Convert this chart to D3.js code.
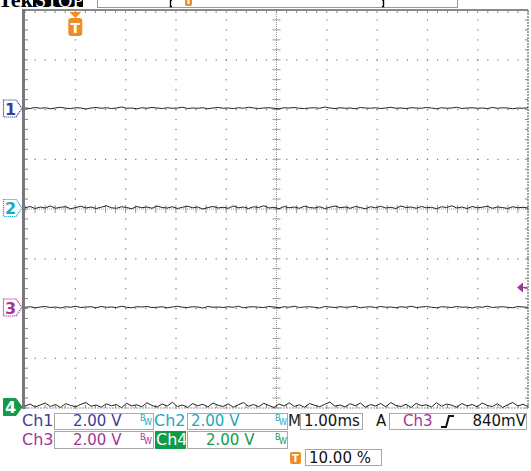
<!DOCTYPE html>
<html><head><meta charset="utf-8">
<script src="https://cdn.jsdelivr.net/npm/d3@7/dist/d3.min.js"></script>
<style>body{margin:0;background:#fff}svg{display:block}</style>
</head><body>
<script>
// ---- data ----
const channels = ["Ch1","Ch2","Ch3","Ch4"];
const voltsPerDiv = [2.00, 2.00, 2.00, 2.00];
const chPosDiv = [2, 0, -2, -4];
const timePerDivMs = 1.00;
const triggerPct = 10.00;
const triggerLevelV = 0.84;
const ch1 = [0.06,0.04,0.08,0.05,0.07,0.03,0.06,0.09,0.05,0.04,0.07,0.06,0.02,0.06,0.08,0.05,0.07,0.04,0.06,0.10,0.05,0.06,0.03,0.07,0.05,0.08,0.06,0.04,0.07,0.05,0.06,0.09,0.04,0.06,0.05,0.07,0.03,0.06,0.08,0.05,0.06,0.04,0.07,0.05,0.09,0.06,0.04,0.06,0.07,0.05,0.03,0.07,0.06,0.08,0.05,0.04,0.06,0.07,0.05,0.10,0.06,0.04,0.07,0.05,0.06,0.03,0.08,0.06,0.05,0.07,0.04,0.06,0.09,0.05,0.06,0.04,0.07,0.06,0.05,0.08,0.06,0.03,0.07,0.05,0.06,0.09,0.04,0.06,0.07,0.05,0.06,0.04,0.08,0.05,0.07,0.06,0.03,0.06,0.05,0.07];
const ch2 = [0.05,0.10,0.02,0.08,0.04,0.12,0.03,0.07,0.09,0.01,0.06,0.11,0.04,0.08,0.02,0.07,0.13,0.05,0.03,0.09,0.06,0.01,0.10,0.05,0.08,0.03,0.12,0.06,0.04,0.09,0.02,0.07,0.11,0.05,0.08,0.00,0.06,0.10,0.04,0.07,0.03,0.12,0.05,0.08,0.02,0.09,0.06,0.13,0.04,0.07,0.01,0.10,0.05,0.08,0.03,0.11,0.06,0.04,0.09,0.02,0.07,0.12,0.05,0.08,0.03,0.10,0.06,0.01,0.09,0.05,0.11,0.04,0.07,0.02,0.12,0.06,0.08,0.03,0.10,0.05,0.07,0.01,0.09,0.06,0.13,0.04,0.08,0.02,0.10,0.05,0.07,0.11,0.03,0.08,0.06,0.02,0.09,0.05,0.07,0.04];
const ch3 = [0.05,0.07,0.03,0.06,0.08,0.04,0.06,0.02,0.07,0.05,0.09,0.04,0.06,0.07,0.03,0.08,0.05,0.06,0.04,0.09,0.05,0.03,0.07,0.06,0.08,0.04,0.05,0.07,0.03,0.06,0.09,0.05,0.04,0.07,0.06,0.02,0.08,0.05,0.06,0.04,0.07,0.05,0.09,0.03,0.06,0.07,0.05,0.04,0.08,0.06,0.03,0.07,0.05,0.09,0.04,0.06,0.07,0.05,0.02,0.08,0.06,0.04,0.07,0.05,0.06,0.09,0.03,0.06,0.07,0.04,0.08,0.05,0.06,0.03,0.07,0.05,0.09,0.04,0.06,0.08,0.05,0.03,0.07,0.06,0.04,0.08,0.05,0.06,0.02,0.07,0.05,0.09,0.04,0.06,0.07,0.05,0.03,0.08,0.06,0.05];
const ch4 = [0.08,0.16,0.04,0.12,0.20,0.06,0.14,0.02,0.18,0.10,0.05,0.15,0.22,0.07,0.12,0.03,0.17,0.09,0.14,0.01,0.19,0.08,0.13,0.05,0.21,0.10,0.04,0.16,0.08,0.23,0.06,0.12,0.02,0.18,0.09,0.15,0.04,0.20,0.11,0.06,0.17,0.03,0.13,0.22,0.07,0.14,0.05,0.19,0.10,0.02,0.16,0.08,0.21,0.06,0.13,0.03,0.18,0.11,0.05,0.15,0.24,0.07,0.12,0.04,0.17,0.09,0.20,0.03,0.14,0.08,0.18,0.05,0.22,0.10,0.06,0.15,0.02,0.19,0.09,0.13,0.04,0.21,0.07,0.16,0.11,0.03,0.18,0.08,0.14,0.05,0.20,0.10,0.06,0.17,0.02,0.13,0.22,0.08,0.15,0.06];
const traces = [ch1, ch2, ch3, ch4];
const chColors = ["#3a3d9c", "#1aa9c0", "#a33595", "#119a48"];

// ---- layout ----
const W = 531, H = 471;
const svg = d3.select("body").append("svg").attr("width", W).attr("height", H);
const L = 25, R = 528, T = 10, B = 408;
const preMs = timePerDivMs * 10 * triggerPct / 100;
const x = d3.scaleLinear().domain([-preMs, 10 * timePerDivMs - preMs]).range([L, R]);
const y = d3.scaleLinear().domain([-4, 4]).range([B, T]);
const FONT = "'DejaVu Sans', Verdana, sans-serif";

// top header
svg.append("text").attr("x", -2).attr("y", 7).attr("font-family", "'Liberation Serif', serif")
  .attr("font-size", 22).attr("font-weight", "bold").attr("fill", "#000").text("Tek");
svg.append("rect").attr("x", 33).attr("y", -2).attr("width", 50).attr("height", 9).attr("fill", "#000");
svg.append("text").attr("x", 35).attr("y", 7).attr("font-family", "'Liberation Serif', serif")
  .attr("font-size", 20).attr("fill", "#fff").text("STOP");
svg.append("rect").attr("x", 97.5).attr("y", -2).attr("width", 360).attr("height", 9.5)
  .attr("fill", "#fff").attr("stroke", "#999");
svg.append("path").attr("d", "M172,0 L170.5,0 L170.5,6.5 L172,6.5").attr("stroke", "#000").attr("fill", "none").attr("stroke-width", 1.4);
svg.append("path").attr("d", "M382,0 L383.5,0 L383.5,6.5 L382,6.5").attr("stroke", "#000").attr("fill", "none").attr("stroke-width", 1.4);
svg.append("rect").attr("x", 185).attr("y", -4).attr("width", 7).attr("height", 10).attr("rx", 2).attr("fill", "#f08c28");
svg.append("rect").attr("x", 187.5).attr("y", -2).attr("width", 2).attr("height", 6).attr("fill", "#fff");

// plot frame
const g = svg.append("g");
const divX = d3.range(0, 11).map(i => x.domain()[0] + i * timePerDivMs);
const divY = d3.range(-4, 5);
const minorX = d3.range(0, 51).map(i => x.domain()[0] + i * timePerDivMs / 5);
const minorY = d3.range(0, 41).map(i => -4 + i * 0.2);

divX.slice(1, 10).forEach((t, i) => {
  if (i === 4) return;
  minorY.forEach(v => g.append("rect").attr("x", x(t) - 0.5).attr("y", y(v) - 0.5).attr("width", 1.2).attr("height", 1.2).attr("fill", "#777"));
});
divY.slice(1, 8).forEach(v => {
  if (v === 0) return;
  minorX.forEach(t => g.append("rect").attr("x", x(t) - 0.5).attr("y", y(v) - 0.5).attr("width", 1.2).attr("height", 1.2).attr("fill", "#777"));
});
const cx = x(divX[5]), cy = y(0);
g.append("line").attr("x1", cx).attr("x2", cx).attr("y1", T).attr("y2", B).attr("stroke", "#999").attr("stroke-dasharray", "1,1");
g.append("line").attr("x1", L).attr("x2", R).attr("y1", cy).attr("y2", cy).attr("stroke", "#999").attr("stroke-dasharray", "1,1");
minorY.forEach(v => g.append("line").attr("x1", cx - 4).attr("x2", cx + 4).attr("y1", y(v)).attr("y2", y(v)).attr("stroke", "#999"));
minorX.forEach(t => g.append("line").attr("x1", x(t)).attr("x2", x(t)).attr("y1", cy - 4).attr("y2", cy + 4).attr("stroke", "#999"));
minorX.forEach(t => {
  g.append("line").attr("x1", x(t)).attr("x2", x(t)).attr("y1", T).attr("y2", T + 3).attr("stroke", "#888");
  g.append("line").attr("x1", x(t)).attr("x2", x(t)).attr("y1", B - 3).attr("y2", B).attr("stroke", "#888");
});
minorY.forEach(v => {
  g.append("line").attr("x1", L).attr("x2", L + 3).attr("y1", y(v)).attr("y2", y(v)).attr("stroke", "#888");
  g.append("line").attr("x1", R - 3).attr("x2", R).attr("y1", y(v)).attr("y2", y(v)).attr("stroke", "#888");
});
g.append("line").attr("x1", L).attr("x2", R).attr("y1", T).attr("y2", T).attr("stroke", "#888").attr("stroke-width", 2);
g.append("line").attr("x1", R).attr("x2", R).attr("y1", T).attr("y2", B).attr("stroke", "#888").attr("stroke-dasharray", "2,1").attr("stroke-width", 1.5);
g.append("line").attr("x1", L).attr("x2", R).attr("y1", B).attr("y2", B).attr("stroke", "#999").attr("stroke-dasharray", "2,1");
g.append("line").attr("x1", L - 1.5).attr("x2", L - 1.5).attr("y1", T - 1).attr("y2", B + 1).attr("stroke", "#7a7a7a").attr("stroke-width", 3);

// traces
svg.append("clipPath").attr("id", "clip").append("rect").attr("x", L).attr("y", T).attr("width", R - L).attr("height", B - T);
traces.forEach((arr, c) => {
  const n = arr.length;
  const line = d3.line()
    .x((d, i) => x(x.domain()[0] + i * (x.domain()[1] - x.domain()[0]) / (n - 1)))
    .y(d => y(chPosDiv[c] + d / voltsPerDiv[c]));
  svg.append("path").attr("d", line(arr)).attr("fill", "none").attr("stroke", "#222")
    .attr("stroke-width", 1).attr("clip-path", "url(#clip)");
});

// channel markers on left
channels.forEach((ch, c) => {
  const yy = y(chPosDiv[c]) - 1;
  const sel = c === 3;
  const p = `M3.5,${yy - 8.5} L16,${yy - 8.5} L22,${yy} L16,${yy + 8.5} L3.5,${yy + 8.5} Z`;
  svg.append("path").attr("d", p).attr("fill", sel ? chColors[c] : "#fff")
    .attr("stroke", chColors[c]).attr("stroke-width", sel ? 1 : 1.2).attr("stroke-dasharray", sel ? null : "1.2,0.8");
  svg.append("text").attr("x", 10.5).attr("y", yy + 6).attr("text-anchor", "middle")
    .attr("font-family", FONT).attr("font-size", 16).attr("font-weight", "bold")
    .attr("fill", sel ? "#fff" : chColors[c]).text(String(c + 1));
});

// trigger position marker (top)
const tx = x(0);
svg.append("path").attr("d", `M${tx - 6},12 L${tx + 6},12 L${tx},18 Z`).attr("fill", "#f08c28");
svg.append("rect").attr("x", tx - 7).attr("y", 18).attr("width", 14).attr("height", 18).attr("rx", 3).attr("fill", "#f08c28");
svg.append("text").attr("x", tx).attr("y", 33).attr("text-anchor", "middle").attr("font-family", FONT)
  .attr("font-size", 14).attr("font-weight", "bold").attr("fill", "#fff").text("T");

// trigger level marker (right)
const ty = y(chPosDiv[2] + triggerLevelV / voltsPerDiv[2]);
svg.append("path").attr("d", `M${R - 11},${ty} L${R - 5},${ty - 5} L${R - 5},${ty + 5} Z`).attr("fill", "#a33595");
svg.append("line").attr("x1", R - 6).attr("x2", R - 1).attr("y1", ty).attr("y2", ty).attr("stroke", "#a33595").attr("stroke-width", 1.5);

// bottom readouts
function box(x0, y0, w, h) {
  svg.append("rect").attr("x", x0 + 0.5).attr("y", y0 + 0.5).attr("width", w).attr("height", h)
    .attr("fill", "none").attr("stroke", "#a8a8a8").attr("stroke-width", 1);
}
function txt(x0, y0, s, col, size, anchor) {
  return svg.append("text").attr("x", x0).attr("y", y0).attr("font-family", FONT).attr("font-size", size || 15)
    .attr("fill", col).attr("text-anchor", anchor || "start").text(s);
}
function bw(x0, y0, col) {
  txt(x0, y0, "B", col, 8);
  txt(x0 + 4, y0 + 4, "W", col, 8);
}
const fmtV = d => d3.format(".2f")(d) + " V";
const rows = [413, 431];
txt(22, 426, channels[0], chColors[0], 16);
box(54, rows[0], 99, 16); txt(73, 426, fmtV(voltsPerDiv[0]), chColors[0]);
bw(140, 421, chColors[1]);
txt(154, 426, channels[1], chColors[1], 16);
box(187, rows[0], 100, 16); txt(191, 426, fmtV(voltsPerDiv[1]), chColors[1]);
bw(275, 421, chColors[1]);
txt(288, 426, "M", "#222", 15);
box(300, rows[0], 62, 16); txt(304, 426, d3.format(".2f")(timePerDivMs) + "ms", "#111");
txt(376, 426, "A", "#111", 15);
box(389, rows[0], 137, 16);
txt(403, 426, channels[2], chColors[2], 15);
svg.append("path").attr("d", "M441,427 L446,427 L449,416 L454,416").attr("fill", "none").attr("stroke", "#111").attr("stroke-width", 2);
txt(526, 426, Math.round(triggerLevelV * 1000) + "mV", "#111", 15, "end");
txt(22, 445, channels[2], chColors[2], 16);
box(54, rows[1], 99, 17); txt(73, 445, fmtV(voltsPerDiv[2]), chColors[2]);
bw(140, 440, chColors[2]);
svg.append("rect").attr("x", 155).attr("y", 431).attr("width", 31).attr("height", 18).attr("fill", chColors[3]);
txt(156, 445, channels[3], "#fff", 16);
box(187, rows[1], 100, 17); txt(206, 445, fmtV(voltsPerDiv[3]), chColors[3]);
bw(275, 440, chColors[3]);
svg.append("rect").attr("x", 290).attr("y", 452).attr("width", 11).attr("height", 12).attr("rx", 2).attr("fill", "#f08c28");
txt(295.5, 462, "T", "#fff", 10, "middle").attr("font-weight", "bold");
box(305, 449, 76, 16); txt(309, 463, d3.format(".2f")(triggerPct) + " %", "#111");
</script>
</body></html>
